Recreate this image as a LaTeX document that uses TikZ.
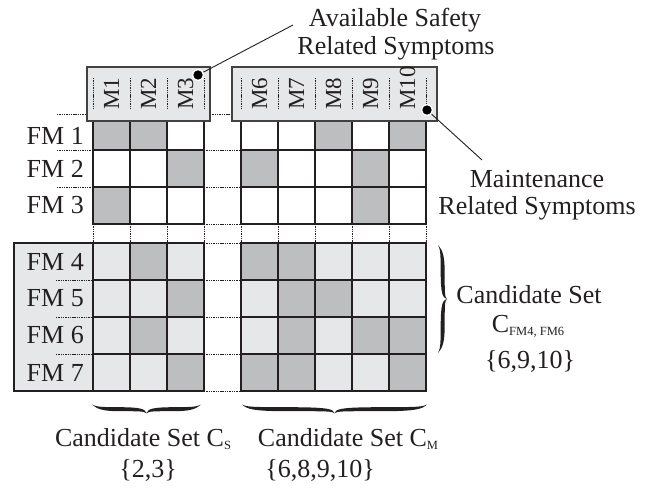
\documentclass[tikz,border=0pt]{standalone}
\usepackage{fontspec}
\setmainfont{Liberation Serif}
\definecolor{dk}{HTML}{BCBEC0}
\definecolor{lt}{HTML}{E6E7E8}
\definecolor{ink}{HTML}{231F20}
\newcommand\bigtext{\fontsize{26}{28}\selectfont}
\newcommand\hdrtext{\fontsize{23}{23}\selectfont}
\newcommand\subtext[1]{\raisebox{-3pt}{\fontsize{12.5}{12.5}\selectfont #1}}

\begin{document}
\begin{tikzpicture}[x=1pt,y=-1pt,
  cell/.style={draw=ink,line width=1.1pt},
  dots/.style={draw=ink,line width=0.8pt,dash pattern=on 1.4pt off 0.9pt},
  hdrbox/.style={draw=ink!85,line width=1.1pt,fill=lt,inner sep=0pt,minimum height=54pt},
  mlab/.style={rotate=90,anchor=west,inner sep=0pt,font=\hdrtext,text=ink},
  fmlab/.style={anchor=east,inner sep=0pt,font=\bigtext,text=ink},
  txt/.style={inner sep=0pt,font=\bigtext,text=ink,anchor=base},
  marker/.style={circle,fill=black,draw=white,line width=1.3pt,minimum size=11pt,inner sep=0pt},
  leader/.style={draw=ink,line width=0.9pt},
  % a typeset-looking curly brace: pointed ends, heavier bar; local x runs
  % along the brace, local y points towards the tip
  pics/cbrace/.style={code={
    \pgfmathsetmacro\bw{#1}
    \pgfmathsetmacro\hw{#1/2}
    \pgfmathsetmacro\qa{#1/4}
    \pgfmathsetmacro\qb{3*#1/4}
    \fill[ink] (0,0) .. controls (4,2.3) and (9,2.7) .. (\qa,2.7)
      .. controls ({\hw-6},2.7) and ({\hw-1},4.5) .. (\hw,8.8)
      .. controls ({\hw+1},4.5) and ({\hw+6},2.7) .. (\qb,2.7)
      .. controls ({\bw-9},2.7) and ({\bw-4},2.3) .. (\bw,0)
      .. controls ({\bw-5},4.8) and ({\bw-12},6.7) .. (\qb,6.7)
      .. controls ({\hw+8},6.7) and ({\hw+2},6.6) .. (\hw,8.8)
      .. controls ({\hw-2},6.6) and ({\hw-8},6.7) .. (\qa,6.7)
      .. controls (12,6.7) and (5,4.8) .. (0,0) -- cycle;
  }}
]
\useasboundingbox (0,0) rectangle (655,487);

% dotted guide lines between the blocks
\foreach \y in {150,187} {
  \draw[dots] (57,\y) -- (93,\y);
  \draw[dots] (204,\y) -- (241,\y);
}
\draw[dots] (57,114) -- (87,114);
\draw[dots] (210,114) -- (232,114);
\draw[dots] (204,224) -- (241,224);
\foreach \x in {93,130,167,204,241,278,315,352,389,426}
  \draw[dots] (\x,224) -- (\x,243);
\foreach \y in {243,280,317,354,391}
  \draw[dots] (204,\y) -- (241,\y);

% upper block: failure modes FM1--FM3
\foreach \yt/\yb/\row in {
  121/150/{93/dk,130/dk,167/white,241/white,278/white,315/dk,352/white,389/dk},
  150/187/{93/white,130/white,167/dk,241/dk,278/white,315/white,352/dk,389/white},
  187/224/{93/dk,130/white,167/white,241/white,278/white,315/white,352/dk,389/white}}
  \foreach \xx/\cf in \row
    \filldraw[cell,fill=\cf] (\xx,\yt) rectangle ({\xx+37},\yb);

% lower block: failure modes FM4--FM7
\filldraw[cell,fill=lt] (14,243) rectangle (204,391);
\foreach \y in {280,317,354}
  \draw[dots] (56,\y) -- (93,\y);
\foreach \yt/\yb/\row in {
  243/280/{93/lt,130/dk,167/lt,241/dk,278/dk,315/lt,352/lt,389/lt},
  280/317/{93/lt,130/lt,167/dk,241/lt,278/dk,315/dk,352/lt,389/lt},
  317/354/{93/lt,130/dk,167/lt,241/lt,278/dk,315/lt,352/dk,389/dk},
  354/391/{93/lt,130/lt,167/dk,241/dk,278/dk,315/lt,352/lt,389/dk}}
  \foreach \xx/\cf in \row
    \filldraw[cell,fill=\cf] (\xx,\yt) rectangle ({\xx+37},\yb);

% symptom headers
\node[hdrbox,minimum width=123pt] (hdrS) at (148.5,94) {};
\node[hdrbox,minimum width=205pt] (hdrM) at (334.5,94) {};
\foreach \x in {93,130,167,204,241,278,315,352,389,426}
  \draw[dots] (\x,78) -- (\x,110);
\foreach \n/\x in {1/111.5,2/148.5,3/185.5,6/259.5,7/296.5,8/333.5,9/370.5,10/407.5}
  \node[mlab] (m\n) at (\x,110) {M\n};

% failure mode labels
\foreach \n/\y in {1/135.5,2/168.5,3/205.5,4/261.5,5/298.5,6/335.5,7/372.5}
  \node[fmlab] (fm\n) at (84,\y) {FM \n};

% annotations with leader lines
\node[txt] (safeA) at (395,27) {Available Safety};
\node[txt] (safeB) at (396,55) {Related Symptoms};
\coordinate (safeTip) at (293,25);
\node[marker] (dotS) at (198,75) {};
\draw[leader] (dotS) -- (safeTip);

\node[txt] (mainA) at (537,187) {Maintenance};
\node[txt] (mainB) at (537,214) {Related Symptoms};
\coordinate (mainTip) at (482,160);
\node[marker] (dotM) at (427,110) {};
\draw[leader] (dotM) -- (mainTip);

% candidate sets
\pic[rotate=90] at (438,353) {cbrace=108};
\node[txt] (candF) at (529,303) {Candidate Set};
\node[txt] (candFsub) at (528,332) {C\subtext{FM4, FM6}};
\node[txt] (candFset) at (530,368) {\{6,9,10\}};

\pic at (92,404.5) {cbrace=109};
\node[txt] (candS) at (143,446) {Candidate Set C\subtext{S}};
\node[txt] (candSset) at (148,477) {\{2,3\}};

\pic at (242,404.5) {cbrace=185};
\node[txt] (candM) at (348,446) {Candidate Set C\subtext{M}};
\node[txt] (candMset) at (320,477) {\{6,8,9,10\}};
\end{tikzpicture}
\end{document}
